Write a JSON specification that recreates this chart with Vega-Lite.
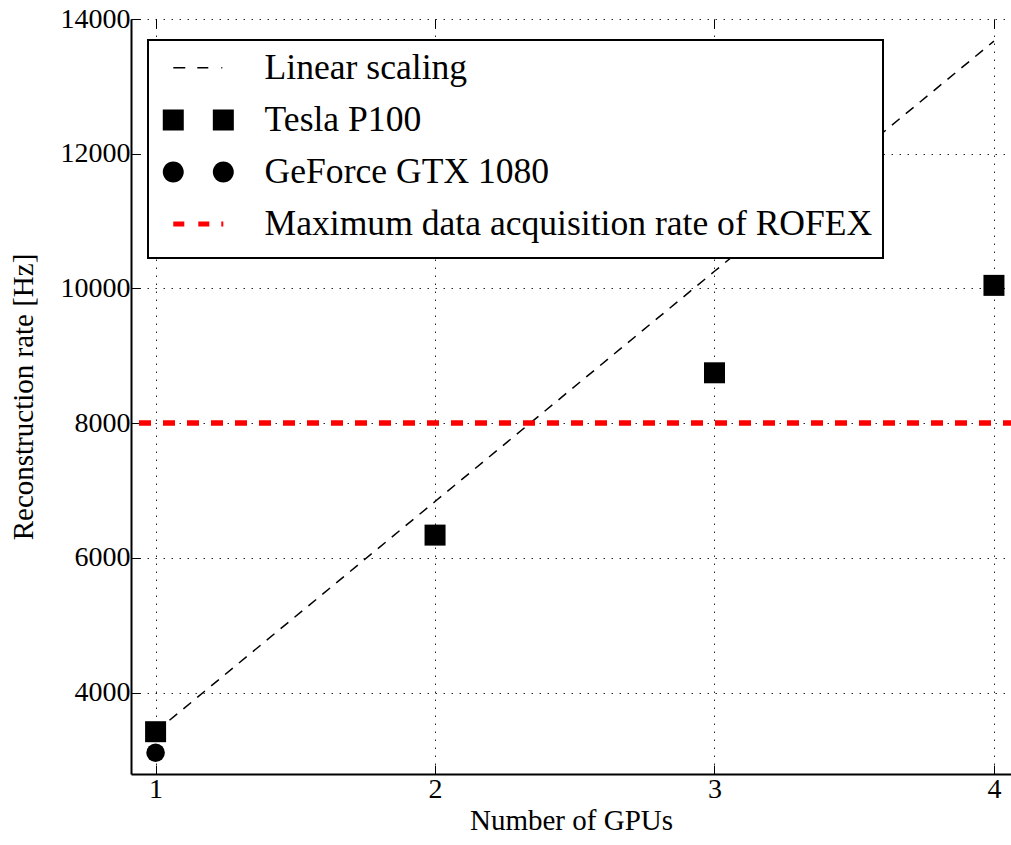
{
  "$schema": "https://vega.github.io/schema/vega-lite/v6.json",
  "width": 880,
  "height": 755,
  "autosize": "none",
  "padding": {"left": 131, "top": 19, "right": 0, "bottom": 71},
  "background": "white",
  "config": {
    "font": "'Liberation Serif', 'Times New Roman', Times, serif",
    "view": {"stroke": null},
    "axis": {
      "grid": true,
      "gridColor": "black",
      "gridDash": [1.5, 6.5],
      "gridWidth": 1,
      "gridOpacity": 0.85,
      "tickSize": -9,
      "tickColor": "black",
      "tickWidth": 1,
      "domainColor": "black",
      "domainWidth": 2,
      "labelFontSize": 28,
      "labelColor": "black",
      "labelFont": "'Liberation Serif', 'Times New Roman', Times, serif",
      "titleFont": "'Liberation Serif', 'Times New Roman', Times, serif",
      "titleFontSize": 29,
      "titleFontWeight": "normal",
      "titleColor": "black"
    },
    "legend": {
      "orient": "none",
      "legendX": 17,
      "legendY": 21,
      "strokeColor": "black",
      "strokeWidth": 2,
      "fillColor": "white",
      "padding": 10,
      "cornerRadius": 0,
      "labelFont": "'Liberation Serif', 'Times New Roman', Times, serif",
      "labelFontSize": 35.6,
      "labelColor": "black",
      "labelLimit": 1000,
      "labelOffset": 48.5,
      "symbolSize": 1225,
      "symbolStrokeWidth": 0,
      "symbolOffset": 22.5,
      "rowPadding": 15.1
    }
  },
  "resolve": {"axis": {"x": "independent"}},
  "datasets": {
    "linear": [
      {"gpus": 1, "rate": 3418},
      {"gpus": 2, "rate": 6836},
      {"gpus": 3, "rate": 10254},
      {"gpus": 4, "rate": 13672}
    ],
    "tesla": [
      {"gpus": 1, "rate": 3418},
      {"gpus": 2, "rate": 6337},
      {"gpus": 3, "rate": 8747},
      {"gpus": 4, "rate": 10045}
    ],
    "geforce": [
      {"gpus": 1, "rate": 3105}
    ],
    "limit": [
      {"rate": 8000}
    ],
    "legendrows": [
      {"series": "Linear scaling"},
      {"series": "Tesla P100"},
      {"series": "GeForce GTX 1080"},
      {"series": "Maximum data acquisition rate of ROFEX"}
    ]
  },
  "layer": [
    {
      "data": {"name": "linear"},
      "mark": {"type": "line", "stroke": "black", "strokeWidth": 1.5, "strokeDash": [10, 8]},
      "encoding": {
        "x": {
          "field": "gpus",
          "type": "quantitative",
          "scale": {"domain": [0.912, 4.061], "nice": false, "zero": false},
          "axis": {"values": [1, 2, 3, 4], "format": "d", "labelPadding": 10, "titlePadding": 3, "title": "Number of GPUs"}
        },
        "y": {
          "field": "rate",
          "type": "quantitative",
          "scale": {"domain": [2790, 14000], "nice": false, "zero": false},
          "axis": {"values": [4000, 6000, 8000, 10000, 12000, 14000], "format": "d", "labelPadding": 10, "titlePadding": 22, "title": "Reconstruction rate [Hz]"}
        }
      }
    },
    {
      "data": {"name": "limit"},
      "mark": {"type": "rule", "stroke": "#ff0000", "strokeWidth": 5.5, "strokeDash": [12, 12], "strokeDashOffset": 4},
      "encoding": {
        "y": {"field": "rate", "type": "quantitative"}
      }
    },
    {
      "data": {"name": "tesla"},
      "mark": {"type": "point", "shape": "square", "filled": true, "color": "black", "opacity": 1, "size": 441},
      "encoding": {
        "x": {"field": "gpus", "type": "quantitative", "axis": null},
        "y": {"field": "rate", "type": "quantitative"}
      }
    },
    {
      "data": {"name": "geforce"},
      "mark": {"type": "point", "shape": "circle", "filled": true, "color": "black", "opacity": 1, "size": 346},
      "encoding": {
        "x": {
          "field": "gpus",
          "type": "quantitative",
          "axis": {"orient": "top", "values": [1, 2, 3, 4], "labels": false, "title": null, "grid": false, "domain": false, "ticks": true, "tickSize": -9}
        },
        "y": {"field": "rate", "type": "quantitative"}
      }
    },
    {
      "data": {"name": "legendrows"},
      "mark": {"type": "point", "filled": true, "opacity": 0},
      "encoding": {
        "shape": {
          "field": "series",
          "type": "nominal",
          "scale": {
            "domain": ["Linear scaling", "Tesla P100", "GeForce GTX 1080", "Maximum data acquisition rate of ROFEX"],
            "range": [
              "M-1.429,-0.043H-0.743V0.043H-1.429ZM-0.057,-0.043H0.571V0.043H-0.057ZM1.314,-0.043H1.371V0.043H1.314Z",
              "M-2.03,-0.6H-0.83V0.6H-2.03ZM0.83,-0.6H2.03V0.6H0.83Z",
              "M-2.03,0A0.6,0.6,0,1,0,-0.83,0A0.6,0.6,0,1,0,-2.03,0ZM0.83,0A0.6,0.6,0,1,0,2.03,0A0.6,0.6,0,1,0,0.83,0Z",
              "M-1.429,-0.143H-0.8V0.143H-1.429ZM0,-0.143H0.629V0.143H0ZM1.314,-0.143H1.429V0.143H1.314ZM0,1.34"
            ]
          },
          "legend": {"title": null, "symbolOpacity": 1, "encode": {"symbols": {"update": {"opacity": {"value": 1}, "fillOpacity": {"value": 1}}}}}
        },
        "color": {
          "field": "series",
          "type": "nominal",
          "scale": {
            "domain": ["Linear scaling", "Tesla P100", "GeForce GTX 1080", "Maximum data acquisition rate of ROFEX"],
            "range": ["black", "black", "black", "#ff0000"]
          },
          "legend": {"title": null, "symbolOpacity": 1, "encode": {"symbols": {"update": {"opacity": {"value": 1}, "fillOpacity": {"value": 1}}}}}
        }
      }
    }
  ]
}
